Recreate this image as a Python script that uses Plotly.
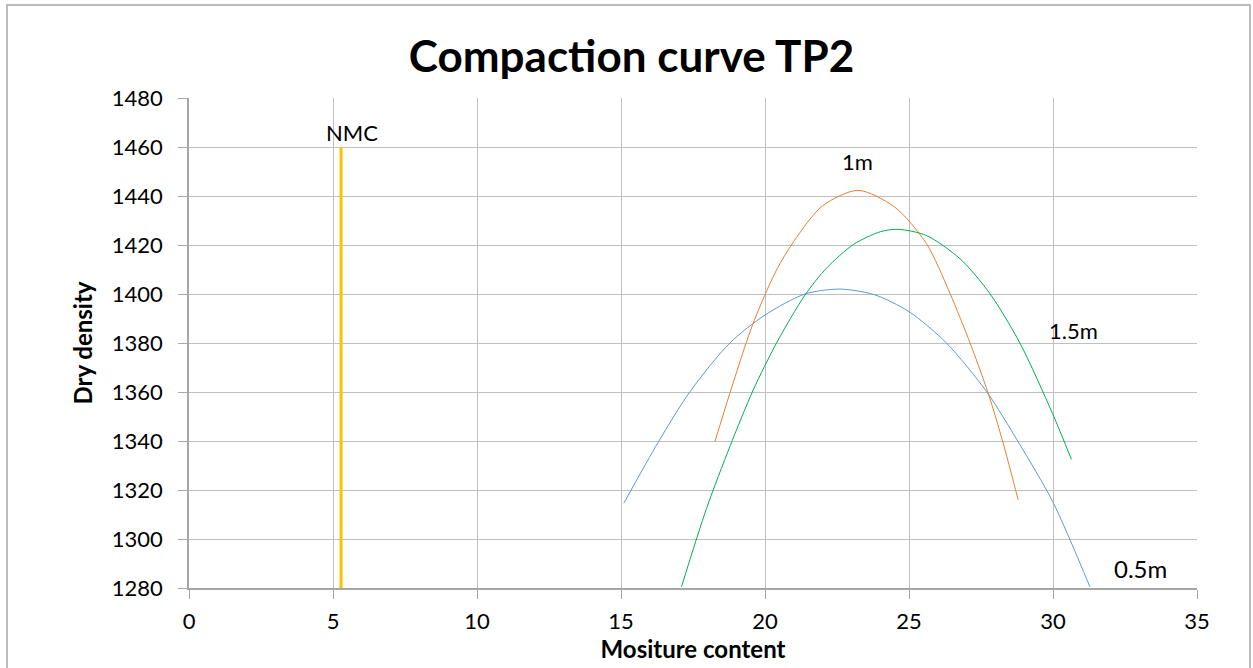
import plotly.graph_objects as go

# Moisture content (%) vs dry density (kg/m3) for each sampling depth
x_05m = [15.1, 16.3, 17.4, 18.78, 20.0, 21.39, 22.6, 23.8, 25.0, 26.3, 27.69, 28.79, 30.0, 31.28]
y_05m = [1314.6, 1339.7, 1360.2, 1380.0, 1391.4, 1400.0, 1402.0, 1399.7, 1392.8, 1380.0, 1360.2, 1339.7, 1315.0, 1280.5]

x_1m = [18.26, 18.78, 19.59, 20.4, 21.0, 22.0, 23.23, 24.5, 25.6, 26.42, 27.12, 27.75, 28.27, 28.79]
y_1m = [1339.7, 1359.5, 1388.1, 1409.8, 1421.5, 1436.0, 1442.3, 1435.5, 1420.7, 1400.3, 1380.0, 1359.5, 1339.1, 1316.0]

x_15m = [17.1, 17.97, 18.78, 19.59, 20.4, 21.39, 22.14, 23.07, 24.0, 24.62, 25.6, 26.77, 27.8, 28.85, 29.98, 30.64]
y_15m = [1280.5, 1312.5, 1337.7, 1360.8, 1380.0, 1399.6, 1410.6, 1420.2, 1425.4, 1426.4, 1423.9, 1414.4, 1400.3, 1380.0, 1351.3, 1332.5]

# Natural moisture content marker
x_nmc = [5.28, 5.28]
y_nmc = [1280, 1460]

x_ticks = [0, 5, 10, 15, 20, 25, 30, 35]
y_ticks = [1280, 1300, 1320, 1340, 1360, 1380, 1400, 1420, 1440, 1460, 1480]

FONT = "Lato"

fig = go.Figure()
fig.add_trace(go.Scatter(x=x_05m, y=y_05m, mode="lines", line=dict(color="#5B9BD5", width=1, shape="spline", smoothing=0.8), name="0.5m"))
fig.add_trace(go.Scatter(x=x_1m, y=y_1m, mode="lines", line=dict(color="#ED7D31", width=1, shape="spline", smoothing=0.8), name="1m"))
fig.add_trace(go.Scatter(x=x_15m, y=y_15m, mode="lines", line=dict(color="#00B050", width=1, shape="spline", smoothing=0.8), name="1.5m"))
fig.add_trace(go.Scatter(x=x_nmc, y=y_nmc, mode="lines", line=dict(color="#FFC000", width=3), name="NMC"))

annotations = [
    dict(x=x_nmc[1], y=y_nmc[1], text="NMC", xshift=11, yshift=15, font=dict(size=22)),
    dict(x=23.2, y=1454, text="1m", font=dict(size=22)),
    dict(x=30.7, y=1385, text="1.5m", font=dict(size=22)),
    dict(x=33.05, y=1288, text="0.5m", font=dict(size=24)),
]
for a in annotations:
    a.update(xref="x", yref="y", showarrow=False)
    a["font"].update(family=FONT, color="black")

L, R, T, B = 189, 56, 98, 80
W, H = 1253, 668
pw, ph = W - L - R, H - T - B

fig.update_layout(
    width=W, height=H,
    margin=dict(l=L, r=R, t=T, b=B),
    paper_bgcolor="white", plot_bgcolor="white",
    showlegend=False,
    font=dict(family=FONT, color="black", size=22),
    title=dict(text="<b>Compaction curve TP2</b>", x=0.504, xanchor="center", y=0.915, yanchor="middle",
               font=dict(family=FONT, size=44, color="black")),
    annotations=annotations,
    shapes=[dict(type="rect", xref="paper", yref="paper",
                 x0=(7 - L) / pw, x1=(1250 - L) / pw, y0=(H - B - 672) / ph, y1=(H - B - 5) / ph,
                 line=dict(color="#A6A6A6", width=1.5), layer="below")],
)
fig.update_xaxes(range=[0, 35], tickvals=x_ticks, showgrid=True, gridcolor="#BFBFBF", gridwidth=1,
                 showline=True, linecolor="#A6A6A6", linewidth=1.5, ticks="outside", ticklen=9,
                 tickcolor="#A6A6A6", tickfont=dict(size=22), zeroline=False, ticklabelstandoff=4,
                 title=dict(text="<b>Mositure content</b>", font=dict(size=24), standoff=4))
fig.update_yaxes(range=[1280, 1480], tickvals=y_ticks, showgrid=True, gridcolor="#BFBFBF", gridwidth=1,
                 showline=True, linecolor="#A6A6A6", linewidth=1.5, ticks="outside", ticklen=9,
                 tickcolor="#A6A6A6", tickfont=dict(size=22), zeroline=False, ticklabelstandoff=11,
                 title=dict(text="<b>Dry density</b>", font=dict(size=24), standoff=12))

fig.write_html("out.html")
